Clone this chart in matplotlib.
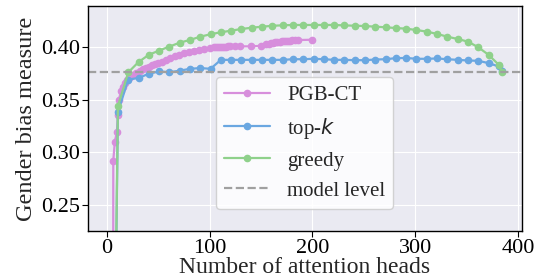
import matplotlib
matplotlib.use("Agg")
import matplotlib.pyplot as plt
import seaborn as sns

# greedy and top-k are evaluated on the same grid of head counts
heads_grid = [1, 11, 21, 31, 41, 51, 61, 71, 81, 91, 101, 111, 121, 131, 141, 151,
              161, 171, 181, 191, 201, 211, 221, 231, 241, 251, 261, 271, 281, 291,
              301, 311, 321, 331, 341, 351, 361, 371, 381, 384]

greedy = [-0.45, 0.3437, 0.3758, 0.3856, 0.3925, 0.3965, 0.4003, 0.4040, 0.4066, 0.4097,
          0.4120, 0.4139, 0.4154, 0.4170, 0.4182, 0.4192, 0.4200, 0.4205, 0.4208, 0.4208,
          0.4208, 0.4208, 0.4208, 0.4204, 0.4201, 0.4198, 0.4192, 0.4186, 0.4179, 0.4173,
          0.4160, 0.4145, 0.4123, 0.4097, 0.4075, 0.4050, 0.3997, 0.3925, 0.3830, 0.3761]

topk = [-0.45, 0.3380, 0.3690, 0.3705, 0.3745, 0.3767, 0.3760, 0.3774, 0.3792, 0.3799,
        0.3792, 0.3877, 0.3877, 0.3877, 0.3877, 0.3877, 0.3877, 0.3877, 0.3883, 0.3883,
        0.3887, 0.3883, 0.3877, 0.3877, 0.3874, 0.3874, 0.3880, 0.3883, 0.3893, 0.3895,
        0.3887, 0.3887, 0.3890, 0.3883, 0.3877, 0.3871, 0.3868, 0.3846, 0.3814, 0.3767]

pgb_heads = [6, 6.5, 8, 10, 11, 12, 14, 16, 18, 20, 23, 26, 29, 32, 35, 38, 41, 44, 47,
             50, 54, 58, 62, 66, 70, 75, 80, 85, 90, 95, 100, 104, 106, 108, 110, 112,
             114, 116, 118, 120, 125, 130, 140, 150, 155, 158, 160, 162, 164, 166, 168,
             170, 172, 174, 176, 178, 180, 183, 186, 200]
pgb_ct = [-0.30, 0.292, 0.310, 0.319, 0.335, 0.350, 0.358, 0.362, 0.366, 0.369, 0.371,
          0.373, 0.375, 0.377, 0.379, 0.380, 0.381, 0.383, 0.384, 0.385, 0.386, 0.388,
          0.389, 0.391, 0.392, 0.394, 0.395, 0.396, 0.397, 0.398, 0.399, 0.3995, 0.3998,
          0.400, 0.4002, 0.4003, 0.4003, 0.4003, 0.4004, 0.4004, 0.4005, 0.4005, 0.4005,
          0.4010, 0.4025, 0.4030, 0.4035, 0.4040, 0.4045, 0.4048, 0.4050, 0.4053, 0.4055,
          0.4058, 0.4060, 0.4060, 0.4061, 0.4063, 0.4065, 0.4068]

model_level = 0.3765

sns.set_style("darkgrid", {"axes.edgecolor": "black", "xtick.bottom": True,
                           "ytick.left": True, "grid.linewidth": 1.5})
plt.rcParams["font.family"] = ["Liberation Serif", "DejaVu Serif"]
plt.rcParams["mathtext.fontset"] = "dejavusans"

fig, ax = plt.subplots(figsize=(5.37, 2.78), dpi=100)
fig.subplots_adjust(left=0.164, right=0.972, top=0.978, bottom=0.17)

ax.plot(pgb_heads, pgb_ct, "-o", color="#d78edc", lw=1.6, ms=4.5, label="PGB-CT")
ax.plot(heads_grid, topk, "-o", color="#6aa7e1", lw=1.6, ms=4.5, label="top-$k$")
ax.plot(heads_grid, greedy, "-o", color="#8fd18b", lw=1.6, ms=4.5, label="greedy")
ax.axhline(model_level, color="#a0a0a0", ls="--", lw=1.6, label="model level")

ax.set_xlim(-18, 403.5)
ax.set_ylim(0.2255, 0.4387)
ax.set_xticks([0, 100, 200, 300, 400])
ax.set_yticks([0.25, 0.30, 0.35, 0.40])
ax.tick_params(labelsize=16, length=4, pad=2, color="black", labelcolor="black")
ax.set_xlabel("Number of attention heads", fontsize=17, labelpad=-1)
ax.set_ylabel("Gender bias measure", fontsize=17.5, labelpad=3)
for s in ax.spines.values():
    s.set_linewidth(1.0)

ax.legend(loc="lower left", bbox_to_anchor=(0.295, 0.097), borderaxespad=0,
          fontsize=15, handlelength=2.2, facecolor="white", framealpha=0.85)

fig.savefig("out.png", dpi=100)
